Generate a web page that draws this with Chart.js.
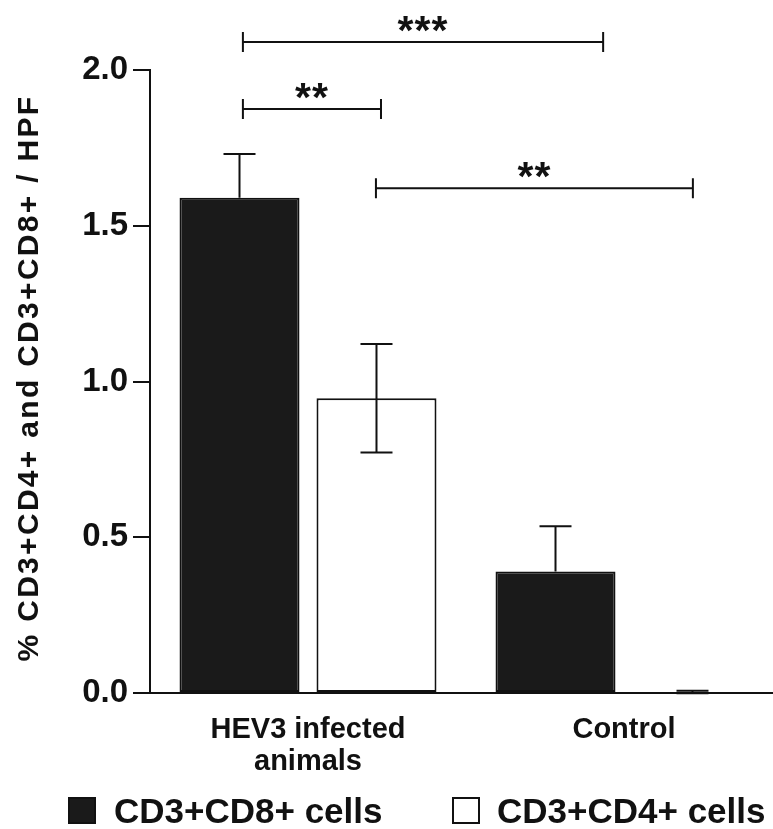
<!DOCTYPE html>
<html>
<head>
<meta charset="utf-8">
<script src="https://cdn.jsdelivr.net/npm/chart.js@4.4.1/dist/chart.umd.min.js"></script>
<style>
  html, body { margin: 0; padding: 0; background: #ffffff; overflow: hidden; }
  #wrap { width: 782px; height: 829px; }
</style>
</head>
<body>
<div id="wrap"><canvas id="c" width="782" height="829"></canvas></div>
<script>
// ---- data ----
const categories = [['HEV3 infected', 'animals'], 'Control'];
const seriesNames = ['CD3+CD8+ cells', 'CD3+CD4+ cells'];
const cd8Values = [1.59, 0.39];
const cd8Errors = [0.14, 0.145];
const cd4Values = [0.946, 0.003];
const cd4Errors = [0.174, 0.004];
const yTicks = [0, 0.5, 1.0, 1.5, 2.0];
const yTitle = '% CD3+CD4+ and CD3+CD8+ / HPF';
// significance brackets (x in category-index units, level in y units)
const sigLabels = ['***', '**', '**'];
const sigLevels = [2.09, 1.875, 1.62];
const sigFrom = [-0.206, -0.206, 0.215];
const sigTo = [0.934, 0.231, 1.218];

const FONT = "'Liberation Sans', Arial, sans-serif";
const INK = '#111111';
const BLACK_FILL = '#1a1a1a';

const errorBars = {
  id: 'errorBars',
  afterDatasetsDraw(chart) {
    const ctx = chart.ctx, y = chart.scales.y;
    const errs = [cd8Errors, cd4Errors];
    ctx.save();
    ctx.strokeStyle = INK;
    ctx.lineWidth = 2;
    chart.data.datasets.forEach((ds, di) => {
      const meta = chart.getDatasetMeta(di);
      const filled = ds.backgroundColor !== '#ffffff';
      meta.data.forEach((bar, i) => {
        const v = ds.data[i], e = errs[di][i];
        const yt = y.getPixelForValue(v + e);
        const yb = filled ? y.getPixelForValue(v) : y.getPixelForValue(v - e);
        const x = bar.x, hw = 16;
        ctx.beginPath();
        ctx.moveTo(x, yt); ctx.lineTo(x, yb);
        ctx.moveTo(x - hw, yt); ctx.lineTo(x + hw, yt);
        if (!filled) { ctx.moveTo(x - hw, yb); ctx.lineTo(x + hw, yb); }
        ctx.stroke();
      });
    });
    ctx.restore();
  }
};

const brackets = {
  id: 'brackets',
  afterDatasetsDraw(chart) {
    const ctx = chart.ctx, xs = chart.scales.x, ys = chart.scales.y;
    ctx.save();
    ctx.strokeStyle = INK;
    ctx.fillStyle = INK;
    ctx.lineWidth = 2;
    ctx.font = 'bold 41px ' + FONT;
    ctx.textAlign = 'center';
    ctx.textBaseline = 'alphabetic';
    try { ctx.letterSpacing = '1px'; } catch (e) {}
    sigLabels.forEach((lab, k) => {
      const x1 = xs.getPixelForValue(sigFrom[k]);
      const x2 = xs.getPixelForValue(sigTo[k]);
      const yy = ys.getPixelForValue(sigLevels[k]);
      ctx.beginPath();
      ctx.moveTo(x1, yy); ctx.lineTo(x2, yy);
      ctx.moveTo(x1, yy - 10); ctx.lineTo(x1, yy + 10);
      ctx.moveTo(x2, yy - 10); ctx.lineTo(x2, yy + 10);
      ctx.stroke();
      ctx.fillText(lab, (x1 + x2) / 2, yy + 2);
    });
    ctx.restore();
  }
};

const yTitlePlugin = {
  id: 'yTitlePlugin',
  afterDraw(chart) {
    const ctx = chart.ctx;
    ctx.save();
    ctx.fillStyle = INK;
    ctx.font = 'bold 30px ' + FONT;
    try { ctx.letterSpacing = '2.3px'; } catch (e) {}
    ctx.translate(38, 378);
    ctx.rotate(-Math.PI / 2);
    ctx.textAlign = 'center';
    ctx.textBaseline = 'alphabetic';
    ctx.fillText(yTitle, 0, 0);
    ctx.restore();
  }
};

const legendPlugin = {
  id: 'legendPlugin',
  afterDraw(chart) {
    const ctx = chart.ctx;
    const items = [
      { box: 69, text: 114 },
      { box: 453, text: 497 }
    ];
    ctx.save();
    ctx.font = 'bold 35px ' + FONT;
    ctx.textBaseline = 'alphabetic';
    ctx.textAlign = 'left';
    items.forEach((it, i) => {
      const ds = chart.data.datasets[i];
      ctx.fillStyle = ds.backgroundColor;
      ctx.fillRect(it.box, 798, 26, 25);
      ctx.strokeStyle = INK;
      ctx.lineWidth = 2;
      ctx.strokeRect(it.box, 798, 26, 25);
      ctx.fillStyle = INK;
      ctx.fillText(ds.label, it.text, 823);
    });
    ctx.restore();
  }
};

new Chart(document.getElementById('c'), {
  type: 'bar',
  data: {
    labels: categories,
    datasets: [
      { label: seriesNames[0], data: cd8Values, backgroundColor: BLACK_FILL, borderColor: INK, borderWidth: 2, borderSkipped: false },
      { label: seriesNames[1], data: cd4Values, backgroundColor: '#ffffff', borderColor: INK, borderWidth: 2, borderSkipped: false }
    ]
  },
  options: {
    responsive: false,
    devicePixelRatio: 1,
    animation: false,
    layout: { padding: { top: 70, left: 0, right: 0, bottom: 0 } },
    datasets: { bar: { categoryPercentage: 0.867, barPercentage: 0.876 } },
    plugins: { legend: { display: false }, tooltip: { enabled: false } },
    scales: {
      x: {
        grid: { display: false, drawTicks: false },
        border: { display: true, color: INK, width: 2 },
        ticks: {
          color: INK,
          padding: 21,
          maxRotation: 0,
          autoSkip: false,
          font: { family: FONT, size: 29, weight: 'bold', lineHeight: 1.1 }
        },
        afterFit(scale) { scale.height = 136; }
      },
      y: {
        min: 0, max: 2,
        afterBuildTicks(scale) { scale.ticks = yTicks.map(v => ({ value: v })); },
        grid: { display: true, drawOnChartArea: false, drawTicks: true, tickLength: 17, color: INK, lineWidth: 2 },
        border: { display: true, color: INK, width: 2 },
        ticks: {
          color: INK,
          padding: 5,
          font: { family: FONT, size: 33, weight: 'bold' },
          callback: v => Number(v).toFixed(1)
        },
        afterFit(scale) { scale.width = 150; }
      }
    }
  },
  plugins: [errorBars, brackets, yTitlePlugin, legendPlugin]
});
</script>
</body>
</html>
